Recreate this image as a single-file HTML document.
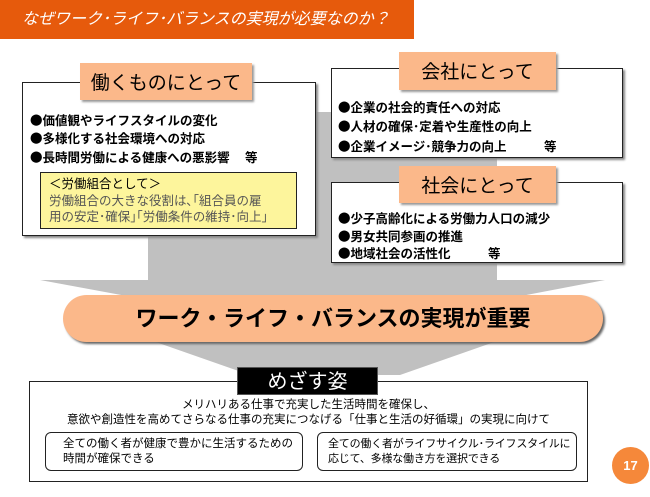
<!DOCTYPE html>
<html><head><meta charset="utf-8"><style>
*{margin:0;padding:0;box-sizing:border-box}
body{width:650px;height:497px;background:#fff;position:relative;overflow:hidden;font-family:"Liberation Sans","Noto Sans CJK JP",sans-serif;color:#000}
.a{position:absolute}
.box{position:absolute;border:1.5px solid #222;background:#fff;box-shadow:2px 2px 2px #888}
.lab{position:absolute;background:#fbb88a;font-size:19px;text-align:center;box-shadow:2px 2px 2px #999;font-family:"Noto Sans CJK JP",sans-serif}
.li{position:absolute;font-size:12.5px;font-weight:bold;white-space:nowrap;line-height:16px;font-family:"Noto Sans CJK JP",sans-serif}
</style></head><body>
<div class="a" style="left:0;top:0;width:414px;height:39px;background:#e65a0c;color:#fff;font-style:italic;font-size:16px;line-height:39px;padding-left:22px">なぜワーク･ライフ･バランスの実現が必要なのか？</div>
<svg class="a" style="left:0;top:0" width="650" height="497">
<polygon points="148,112 497,112 497,280 605,280 500,300 500,340 400,375 250,375 150,340 148,300 40,280 148,280" fill="#c0c0c0"/>
</svg>
<div class="box" style="left:22px;top:82px;width:294px;height:154px"></div>
<div class="lab" style="left:80px;top:63px;width:172px;height:37px;line-height:37px">働くものにとって</div>
<div class="li" style="left:30px;top:112px">●価値観やライフスタイルの変化</div>
<div class="li" style="left:30px;top:130px">●多様化する社会環境への対応</div>
<div class="li" style="left:30px;top:149px">●長時間労働による健康への悪影響　 等</div>
<div class="a" style="left:40px;top:172px;width:257px;height:57px;background:#fdf59c;border:1.5px solid #222;font-size:12.5px;line-height:16.5px;padding:2px 8px;color:#555;white-space:nowrap;font-family:'Noto Sans CJK JP',sans-serif"><span style="color:#000">＜労働組合として＞</span><br>労働組合の大きな役割は､｢組合員の雇<br>用の安定･確保｣｢労働条件の維持･向上｣</div>
<div class="box" style="left:331px;top:68px;width:292px;height:90px"></div>
<div class="lab" style="left:399px;top:52px;width:157px;height:38px;line-height:38px">会社にとって</div>
<div class="li" style="left:338px;top:99px">●企業の社会的責任への対応</div>
<div class="li" style="left:338px;top:118px">●人材の確保･定着や生産性の向上</div>
<div class="li" style="left:338px;top:138px">●企業イメージ･競争力の向上　　　等</div>
<div class="box" style="left:331px;top:182px;width:292px;height:81px"></div>
<div class="lab" style="left:399px;top:166px;width:157px;height:37px;line-height:37px">社会にとって</div>
<div class="li" style="left:338px;top:210px">●少子高齢化による労働力人口の減少</div>
<div class="li" style="left:338px;top:228px">●男女共同参画の推進</div>
<div class="li" style="left:338px;top:245px">●地域社会の活性化　　　等</div>
<div class="a" style="left:63px;top:295px;width:540px;height:47px;border-radius:24px;background:#fbb88a;box-shadow:2px 2px 2px #666;font-size:22px;font-weight:bold;text-align:center;line-height:47px">ワーク・ライフ・バランスの実現が重要</div>
<div class="a" style="left:29px;top:381px;width:559px;height:101px;border:1.5px solid #222;background:#fff"></div>
<div class="a" style="left:237px;top:367px;width:141px;height:28px;background:#000;color:#fff;font-size:20px;text-align:center;line-height:28px;border:1px solid #555">めざす姿</div>
<div class="a" style="left:29px;top:398px;width:559px;text-align:center;font-size:11.5px;line-height:15px">メリハリある仕事で充実した生活時間を確保し、<br>意欲や創造性を高めてさらなる仕事の充実につなげる「仕事と生活の好循環」の実現に向けて</div>
<div class="a" style="left:45px;top:432px;width:258px;height:39px;border:1px solid #222;border-radius:6px;font-size:11.5px;line-height:15px;padding:4px 0 0 17px;white-space:nowrap">全ての働く者が健康で豊かに生活するための<br>時間が確保できる</div>
<div class="a" style="left:317px;top:432px;width:260px;height:39px;border:1px solid #222;border-radius:6px;font-size:11px;line-height:15px;padding:4px 0 0 10px;white-space:nowrap;letter-spacing:-0.2px">全ての働く者がライフサイクル･ライフスタイルに<br>応じて、多様な働き方を選択できる</div>
<div class="a" style="left:612px;top:447px;width:37px;height:37px;border-radius:50%;background:#f5883a;color:#fff;font-weight:bold;font-size:13px;text-align:center;line-height:37px">17</div>
</body></html>
